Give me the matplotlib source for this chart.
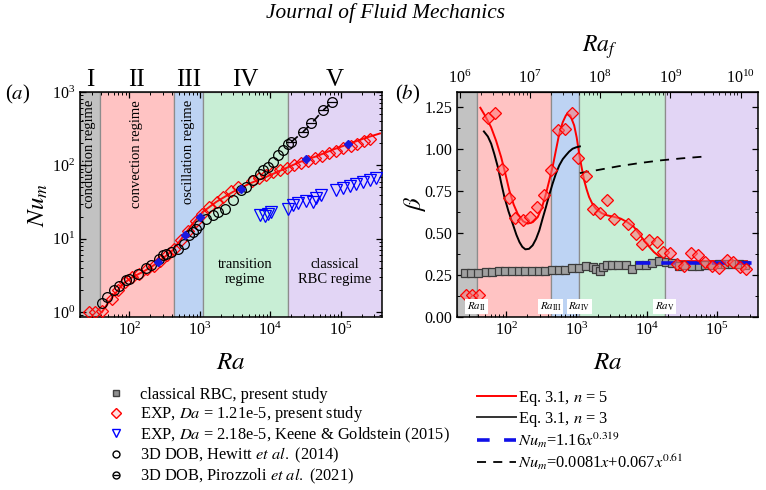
import matplotlib
matplotlib.use("Agg")
import matplotlib.pyplot as plt
from matplotlib.lines import Line2D
from matplotlib.ticker import MultipleLocator, FormatStrFormatter

plt.rcParams['font.family'] = ['Liberation Serif', 'DejaVu Serif']
plt.rcParams['mathtext.fontset'] = 'stix'

# regime boundaries (Ra)
bounds = [20, 38, 430, 1100, 18000, 3.85e5]
regime_colors = ['#c2c2c2', '#ffc3c3', '#bdd3f3', '#c8eed5', '#e2d5f5']
roman = ['I', 'II', 'III', 'IV', 'V']
bound_labels = [r'$Ra_{\rm II}$', r'$Ra_{\rm III}$', r'$Ra_{\rm IV}$', r'$Ra_{\rm V}$']

# EXP, Da = 1.21e-5, present study
exp_ra = [27, 33, 41, 56, 70, 88, 109, 136, 176, 221, 275, 343, 435, 541, 687, 872,
          1060, 1366, 1731, 2155, 2770, 3440, 5500, 6980, 8680, 10800, 13900, 17300,
          21400, 27200, 33800, 43500, 53400, 68700, 85400, 106000, 140000, 170000,
          215000, 262000]
exp_nu = [1.0, 1.0, 1.02, 1.5, 2.0, 2.6, 3.0, 3.3, 3.8, 4.3, 5.0, 5.9, 7.3, 9.6, 12.8, 17.5,
          22, 27, 32, 37, 44, 50, 61, 68, 74, 80, 87, 93,
          100, 108, 116, 126, 135, 147, 158, 170, 186, 198,
          215, 230]
exp_beta = [0.13, 0.13, 0.13, 1.187, 1.217, 0.879, 0.711, 0.589, 0.575, 0.595, 0.655, 0.724,
            0.873, 1.111, 1.121, 1.214, 0.946, 0.838, 0.645, 0.621, 0.699, 0.586, 0.556,
            0.492, 0.437, 0.456, 0.446, 0.387, 0.381, 0.318, 0.302, 0.381, 0.371, 0.327,
            0.304, 0.29, 0.337, 0.33, 0.298, 0.288]

# highlighted points (blue filled diamonds)
hl_ra = [253, 626, 1000, 3880, 32600, 128000]
hl_nu = [4.81, 11.1, 19.8, 48.2, 121, 198]

# Eq. 3.1, n = 5 (Nu and beta)
fit5_ra = [41, 46.5, 58, 80, 111, 155, 215, 298, 413, 573, 795, 1100, 1710, 2950, 5090,
           8790, 15100, 26200, 45300, 78000, 134000, 232000, 360000]
fit5_nu = [1.0, 1.2, 1.6, 2.39, 3.0, 3.51, 4.24, 5.35, 6.95, 10.5, 16.1, 23.1, 31.7, 43.4,
           56.5, 69.6, 87.7, 111, 133, 164, 198, 239, 272]
fit5b_ra = [43, 50, 61, 72, 85, 98, 111, 128, 146, 175, 203, 240, 282, 325, 369, 410, 459,
            510, 571, 640, 710, 750, 820, 931, 1010, 1097, 1190, 1291, 1400, 1520, 1700,
            1892, 2300, 2772, 3400, 4280, 5300, 6600, 7800, 9160, 10800, 12700, 15000,
            17600, 20500, 24400, 32000, 50000, 90100, 268000]
fit5b_beta = [1.246, 1.2, 1.131, 1.05, 0.952, 0.85, 0.754, 0.67, 0.615, 0.57, 0.556, 0.565,
              0.595, 0.655, 0.734, 0.81, 0.893, 0.99, 1.092, 1.16, 1.201, 1.21, 1.2, 1.141,
              1.07, 0.972, 0.89, 0.814, 0.76, 0.714, 0.672, 0.645, 0.618, 0.605, 0.597,
              0.586, 0.565, 0.536, 0.497, 0.456, 0.42, 0.387, 0.362, 0.348, 0.34, 0.335,
              0.333, 0.333, 0.333, 0.333]

# Eq. 3.1, n = 3 (beta)
fit3_ra = [48.3, 55, 61.3, 68, 76.3, 85, 94.6, 108, 124, 140, 155, 170, 188, 212, 239, 267,
           297, 330, 369, 410, 459, 510, 571, 640, 710, 790, 883, 1000, 1122]
fit3_beta = [1.105, 1.075, 1.032, 0.97, 0.893, 0.80, 0.714, 0.63, 0.556, 0.49, 0.446, 0.418,
             0.403, 0.406, 0.427, 0.465, 0.516, 0.585, 0.655, 0.725, 0.794, 0.852, 0.903,
             0.94, 0.963, 0.985, 1.002, 1.011, 1.016]

# 3D DOB, Hewitt et al. (2014)
hew_ra = [41.7, 49, 61, 72, 90, 100, 131, 173, 204, 267, 298, 332, 392, 487, 606, 713, 795,
          888, 991, 1233, 1532, 1804, 2245, 2951, 3875, 4570, 5680, 7060, 7870, 9270, 10900,
          12850, 15100, 17800]
hew_nu = [1.33, 1.60, 2.02, 2.24, 2.71, 2.85, 3.34, 4.03, 4.34, 5.35, 5.94, 6.12, 6.59, 7.33,
          8.57, 11.1, 12.3, 13.7, 15.2, 18.8, 20.9, 23.1, 25.7, 33.4, 45.7, 50.7, 62.6, 77.3,
          87.7, 95.1, 111, 137, 161, 198]

# 3D DOB, Pirozzoli et al. (2021) and dashed fit through them
pir_ra = [19950, 29200, 38400, 56300, 76400]
pir_nu = [209, 286, 372, 565, 733]

# dashed fit in panel (b)
dfit_ra = [1120, 2000, 4000, 8000, 16000, 32000, 64000]
dfit_beta = [0.857, 0.875, 0.898, 0.917, 0.933, 0.945, 0.955]

# EXP, Da = 2.18e-5, Keene & Goldstein (2015)
kg_ra = [7060, 8320, 9270, 10370, 17800, 21000, 24800, 32600, 40400, 45100, 53100, 86700,
         108000, 134000, 167000, 208000, 259000, 315000]
kg_nu = [20.9, 20.2, 21.5, 23.1, 25.7, 28.6, 30.7, 32.7, 31.7, 36.4, 39.1, 46.8, 49.8, 51.9,
         55.2, 59.4, 62.6, 68.1]

# classical RBC, present study (beta)
rbc_ra = [25.6, 31.9, 39.7, 50.9, 63.2, 78.7, 97.7, 122, 151, 188, 234, 291, 361, 449, 558,
          695, 863, 1097, 1366, 1698, 1892, 2155, 2400, 2710, 3260, 3920, 5040, 6260, 7790,
          9680, 12000, 15000, 18600, 23100, 28700, 35700, 44400, 55200, 68700, 85400,
          106000, 132000, 164000, 204000, 254000]
rbc_beta = [0.262, 0.262, 0.262, 0.266, 0.270, 0.274, 0.276, 0.276, 0.276, 0.276, 0.276,
            0.276, 0.274, 0.278, 0.282, 0.282, 0.292, 0.294, 0.302, 0.298, 0.288, 0.274,
            0.298, 0.308, 0.308, 0.312, 0.308, 0.288, 0.308, 0.312, 0.324, 0.332, 0.327,
            0.32, 0.304, 0.308, 0.304, 0.302, 0.31, 0.308, 0.314, 0.314, 0.314, 0.314, 0.312]

# Nu_m = 1.16 x^0.319 -> beta
pl_ra = [7000, 3.85e5]
pl_beta = [0.319, 0.319]

fig = plt.figure(figsize=(7.66, 4.9), dpi=100)
ax1 = fig.add_axes([80 / 766, 1 - 317 / 490, 302 / 766, 225 / 490])
ax2 = fig.add_axes([457 / 766, 1 - 317 / 490, 301 / 766, 225 / 490])

for ax in (ax1, ax2):
    ax.set_xscale('log')
    ax.set_xlim(bounds[0], bounds[-1])
    for i in range(5):
        ax.axvspan(bounds[i], bounds[i + 1], facecolor=regime_colors[i],
                   edgecolor='#8c8c8c', linewidth=0.9, zorder=0)
    ax.tick_params(which='both', direction='in', labelsize=11.5)
    ax.tick_params(which='major', length=4, width=0.9)
    ax.tick_params(which='minor', length=2, width=0.7)
    for s in ax.spines.values():
        s.set_linewidth(1.1)
    ax.set_xlabel(r'$Ra$', fontsize=18)
    ax.xaxis.set_label_coords(0.5, -0.155)

# ---------------- panel (a)
ax1.set_yscale('log')
ax1.set_ylim(0.855, 1000)
ax1.tick_params(which='both', top=True, right=True)
ax1.plot(fit5_ra, fit5_nu, color='red', lw=1.4, zorder=3)
ax1.plot(pir_ra, pir_nu, color='black', lw=1.2, ls=(0, (5, 4)), zorder=3)
ax1.plot(exp_ra, exp_nu, ls='none', marker='D', ms=6.5, mfc=(1, 0.4, 0.4, 0.15),
         mec='red', mew=0.9, zorder=4)
ax1.plot(hew_ra, hew_nu, ls='none', marker='o', ms=7, mfc='none', mec='black',
         mew=0.9, zorder=5)
ax1.plot(pir_ra, pir_nu, ls='none', marker='o', ms=7, mfc='none', mec='black',
         mew=0.9, zorder=5)
ax1.plot(pir_ra, pir_nu, ls='none', marker='_', ms=7, mec='black', mew=0.9, zorder=5)
ax1.plot(kg_ra, kg_nu, ls='none', marker='v', ms=8, mfc='none', mec='blue',
         mew=0.9, zorder=4)
ax1.plot(hl_ra, hl_nu, ls='none', marker='D', ms=4.5, mfc='#1a1ae0', mec='#1a1ae0',
         zorder=6)
ax1.set_ylabel(r'$Nu_m$', fontsize=18)
ax1.yaxis.set_label_coords(-0.10, 0.5)

centers = [27.6, 128, 688, 4450, 83000]
for c, r in zip(centers, roman):
    ax1.text(c, 1.055, r, transform=ax1.get_xaxis_transform(), ha='center',
             va='center', fontsize=18)
for c, t in zip(centers[:3], ['conduction regime', 'convection regime',
                              'oscillation regime']):
    ax1.text(c, 0.965, t, transform=ax1.get_xaxis_transform(), rotation=90,
             ha='center', va='top', fontsize=10.5)
ax1.text(centers[3], 0.2, 'transition\nregime', transform=ax1.get_xaxis_transform(),
         ha='center', va='center', fontsize=10.5, linespacing=1.3)
ax1.text(centers[4], 0.2, 'classical\nRBC regime', transform=ax1.get_xaxis_transform(),
         ha='center', va='center', fontsize=10.5, linespacing=1.3)

# ---------------- panel (b)
ax2.set_ylim(0, 1.34)
ax2.yaxis.set_major_locator(MultipleLocator(0.25))
ax2.yaxis.set_minor_locator(MultipleLocator(0.125))
ax2.yaxis.set_major_formatter(FormatStrFormatter('%.2f'))
ax2.tick_params(which='both', right=True)
ax2.plot(fit5b_ra, fit5b_beta, color='red', lw=1.4, zorder=3)
ax2.plot(fit3_ra, fit3_beta, color='black', lw=1.4, zorder=3)
ax2.plot(dfit_ra, dfit_beta, color='black', lw=1.3, ls=(0, (5, 4)), zorder=3)
ax2.plot(rbc_ra, rbc_beta, ls='none', marker='s', ms=6, mfc='#a0a0a0', mec='#3c3c3c',
         mew=0.9, zorder=4)
ax2.plot(pl_ra, pl_beta, color='#1010e8', lw=2.6, ls=(0, (4, 3)), zorder=5,
         clip_on=False)
ax2.plot(exp_ra, exp_beta, ls='none', marker='D', ms=6.5, mfc=(1, 0.45, 0.45, 0.55),
         mec='red', mew=0.9, zorder=6)
ax2.set_ylabel(r'$\beta$', fontsize=18)
ax2.yaxis.set_label_coords(-0.095, 0.5)
for b, t in zip(bounds[1:5], bound_labels):
    ax2.text(b, 0.062, t, ha='center', va='center', fontsize=7.8, zorder=7,
             bbox=dict(fc='white', ec='none', pad=1.2))

sec = ax2.secondary_xaxis('top', functions=(lambda x: x * 4.6e4, lambda x: x / 4.6e4))
sec.tick_params(which='both', direction='in', labelsize=11.5)
sec.tick_params(which='major', length=4)
sec.tick_params(which='minor', length=2)
fig.text(600 / 766, 1 - 47 / 490, r'$Ra_f$', fontsize=17, ha='center', va='center')

fig.text(5 / 766, 1 - 94 / 490, r'($a$)', fontsize=15, ha='left', va='center')
fig.text(395 / 766, 1 - 94 / 490, r'($b$)', fontsize=15, ha='left', va='center')
fig.text(386 / 766, 1 - 13 / 490, 'Journal of Fluid Mechanics', fontsize=15.4,
         style='italic', ha='center', va='center')

# ---------------- legends
h_sq = Line2D([], [], ls='none', marker='s', ms=5, mfc='#909090', mec='#404040')
h_di = Line2D([], [], ls='none', marker='D', ms=5, mfc=(1, 0.6, 0.6, 0.3), mec='red')
h_tr = Line2D([], [], ls='none', marker='v', ms=6, mfc='none', mec='blue')
h_ci = Line2D([], [], ls='none', marker='o', ms=5, mfc='none', mec='black')
h_pc = Line2D([], [], ls='none', marker='o', ms=5, mfc='none', mec='black')
h_pl = Line2D([], [], ls='none', marker='_', ms=5, mec='black')
leg1 = fig.legend([h_sq, h_di, h_tr, h_ci, (h_pc, h_pl)],
                  ['classical RBC, present study',
                   r'EXP, $Da$ = 1.21e-5, present study',
                   r'EXP, $Da$ = 2.18e-5, Keene & Goldstein (2015)',
                   r'3D DOB, Hewitt $et\ al.$ (2014)',
                   r'3D DOB, Pirozzoli $et\ al.$ (2021)'],
                  loc='upper left', bbox_to_anchor=(108 / 766, 1 - 387 / 490),
                  frameon=False, fontsize=11.8, handlelength=1.0, handletextpad=0.93,
                  labelspacing=0.08, borderpad=0, borderaxespad=0)

l5 = Line2D([], [], color='red', lw=1.4)
l3 = Line2D([], [], color='#333333', lw=1.4)
lb = Line2D([], [], color='#1010e8', lw=2.6, ls=(0, (3.5, 4)))
lk = Line2D([], [], color='black', lw=1.3, ls=(0, (5, 4)))
leg2 = fig.legend([l5, l3, lb, lk],
                  [r'Eq. 3.1, $n$ = 5', r'Eq. 3.1, $n$ = 3',
                   r'$Nu_m$=1.16$x^{0.319}$', r'$Nu_m$=0.0081$x$+0.067$x^{0.61}$'],
                  loc='upper left', bbox_to_anchor=(477 / 766, 1 - 389 / 490),
                  frameon=False, fontsize=11.8, handlelength=2.35, handletextpad=0.16,
                  labelspacing=0.12, borderpad=0, borderaxespad=0)

fig.savefig('out.png', dpi=100)
